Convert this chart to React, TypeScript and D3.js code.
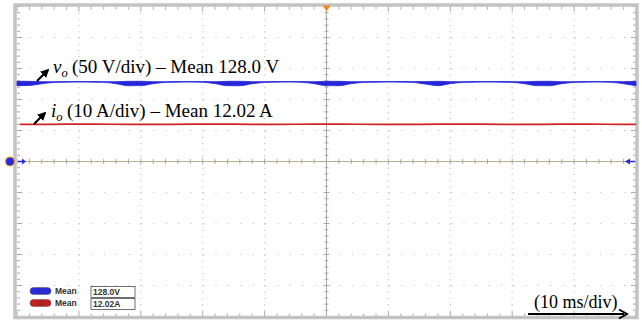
import React from "react";
import * as d3 from "d3";

// time axis: 10 ms/div, 10 divisions
const timeSamples = [0, 2, 4, 6, 8, 10, 12, 14, 16, 18, 20, 22, 24, 26, 28, 30, 32, 34, 36, 38, 40, 42, 44, 46, 48, 50, 52, 54, 56, 58, 60, 62, 64, 66, 68, 70, 72, 74, 76, 78, 80, 82, 84, 86, 88, 90, 92, 94, 96, 98, 100];
// output voltage envelope (V)
const voltHigh = [129.4, 129.3, 128.8, 128.7, 128.9, 129.1, 129.0, 128.8, 128.7, 129.3, 129.4, 128.8, 128.7, 128.9, 129.1, 128.9, 128.7, 129.3, 129.4, 128.8, 128.7, 129.0, 129.1, 128.9, 128.7, 129.4, 129.3, 128.8, 128.7, 128.9, 129.1, 129.0, 128.8, 128.9, 129.4, 128.8, 128.7, 128.9, 129.1, 129.0, 128.8, 128.7, 129.3, 129.4, 128.8, 128.7, 129.0, 129.1, 128.9, 128.8, 129.4];
const voltLow = [122.3, 122.6, 125.4, 127.5, 127.9, 128.1, 128.0, 127.7, 125.5, 122.2, 122.4, 125.6, 127.6, 128.0, 128.1, 127.8, 125.6, 122.3, 122.2, 125.5, 127.6, 128.0, 128.1, 127.7, 125.5, 122.4, 122.2, 125.6, 127.6, 127.9, 128.1, 128.0, 127.6, 124.8, 122.3, 125.6, 127.6, 128.0, 128.1, 127.9, 127.6, 125.5, 122.4, 122.2, 125.5, 127.6, 128.0, 128.1, 127.7, 125.4, 122.3];
// output current (A)
const currTime = [0.5, 5, 10, 15, 20, 25, 30, 35, 40, 45, 50, 55, 60, 65, 70, 75, 80, 85, 90, 95, 100];
const currValues = [11.95, 12.0, 12.05, 12.02, 11.97, 12.0, 12.06, 12.03, 11.98, 12.01, 12.05, 12.02, 11.97, 12.0, 12.05, 12.03, 11.98, 12.0, 12.04, 12.02, 11.98];

const xDivs = d3.range(0, 11);
const yDivs = d3.range(0, 11);

const voltLabel = "(50 V/div) – Mean 128.0 V";
const currLabel = "(10 A/div) – Mean 12.02 A";
const timeLabel = "(10 ms/div)";
const legendRows = [
  { ch: "C1", label: "Mean", value: "128.0V", fill: "#2a2ae0" },
  { ch: "C2", label: "Mean", value: "12.02A", fill: "#c81e1e" },
];

export default function App() {
  const W = 642, H = 324;
  const L = 17, R = 636, T = 6.5, B = 316.5;
  const x = d3.scaleLinear().domain([0, 100]).range([L, R]);
  const gx = d3.scaleLinear().domain([0, 10]).range([L, R]);
  const gy = d3.scaleLinear().domain([0, 10]).range([T, B]);
  const yV = d3.scaleLinear().domain([-250, 250]).range([B, T]);
  const yI = d3.scaleLinear().domain([-50, 50]).range([B, T]);
  const cx = gx(5), cy = gy(5);

  const voltArea = d3.area<number>()
    .x((_, i) => x(timeSamples[i]))
    .y0((_, i) => yV(voltLow[i]))
    .y1((_, i) => yV(voltHigh[i]))
    .curve(d3.curveMonotoneX);
  const currLine = d3.line<number>()
    .x((_, i) => x(currTime[i]))
    .y((d) => yI(d))
    .curve(d3.curveMonotoneX);

  const minorX = d3.range(0, 51).map((i) => L + (i * (R - L)) / 50);
  const minorY = d3.range(0, 51).map((i) => T + (i * (B - T)) / 50);
  const serif = "'Liberation Serif', 'Times New Roman', serif";
  const sans = "'Liberation Sans', Arial, sans-serif";

  return (
    <svg width={W} height={H} style={{ position: "absolute", left: 0, top: 0, background: "#fff" }}>
      <rect x={0} y={0} width={W} height={H} fill="#fff" />
      {/* dotted grid */}
      {xDivs.slice(1, 10).filter((d) => d !== 5).map((d) => (
        <line key={"gx" + d} x1={gx(d)} x2={gx(d)} y1={T} y2={B} stroke="#c4c4c4" strokeWidth={1.2} strokeDasharray="1.2,5" />
      ))}
      {yDivs.slice(1, 10).filter((d) => d !== 5).map((d) => (
        <line key={"gy" + d} x1={L} x2={R} y1={gy(d)} y2={gy(d)} stroke="#c4c4c4" strokeWidth={1.2} strokeDasharray="1.2,11.2" />
      ))}
      {/* center cross */}
      <line x1={cx} x2={cx} y1={T} y2={B} stroke="#a8a8a8" strokeWidth={1} />
      <line x1={L} x2={R} y1={cy} y2={cy} stroke="#b9ab8c" strokeWidth={1.2} />
      {minorY.map((v, i) => (
        <line key={"cyt" + i} x1={cx - (i % 5 === 0 ? 3 : 2)} x2={cx + (i % 5 === 0 ? 3 : 2)} y1={v} y2={v} stroke="#a8a8a8" strokeWidth={1} />
      ))}
      {minorX.map((v, i) => (
        <line key={"cxt" + i} x1={v} x2={v} y1={cy - (i % 5 === 0 ? 3 : 2.5)} y2={cy + (i % 5 === 0 ? 3 : 2.5)} stroke="#a8a8a8" strokeWidth={1} />
      ))}
      {/* border ticks */}
      {minorX.map((v, i) => (
        <g key={"bt" + i}>
          <line x1={v} x2={v} y1={T} y2={T + (i % 5 === 0 ? 5 : 3)} stroke="#a8a8a8" strokeWidth={1} />
          <line x1={v} x2={v} y1={B} y2={B - (i % 5 === 0 ? 5 : 3)} stroke="#a8a8a8" strokeWidth={1} />
        </g>
      ))}
      {minorY.map((v, i) => (
        <g key={"bl" + i}>
          <line x1={L} x2={L + (i % 5 === 0 ? 5 : 3)} y1={v} y2={v} stroke="#a8a8a8" strokeWidth={1} />
          <line x1={R} x2={R - (i % 5 === 0 ? 5 : 3)} y1={v} y2={v} stroke="#a8a8a8" strokeWidth={1} />
        </g>
      ))}
      {/* frame */}
      <rect x={L - 2} y={T - 1.5} width={R - L + 3} height={B - T + 2.5} fill="none" stroke="#c3c3c3" strokeWidth={3.5} />
      {/* traces */}
      <path d={voltArea(timeSamples) || ""} fill="#2626d8" stroke="#2626d8" strokeWidth={0.8} />
      <path d={currLine(currValues) || ""} fill="none" stroke="#cf2424" strokeWidth={1.7} />
      {/* markers */}
      <path d={`M${cx - 4},${T - 1} L${cx + 4},${T - 1} L${cx},${T + 5} Z`} fill="#f28a1c" />
      <circle cx={10} cy={cy} r={4.5} fill="#2828e0" stroke="#f0a020" strokeWidth={1.2} />
      <path d={`M${L + 1},${cy - 0.8} L${L + 5},${cy - 0.8} L${L + 5},${cy - 3} L${L + 9},${cy} L${L + 5},${cy + 3} L${L + 5},${cy + 0.8} L${L + 1},${cy + 0.8} Z`} fill="#2828e0" />
      <path d={`M${R - 1},${cy - 0.8} L${R - 6},${cy - 0.8} L${R - 6},${cy - 3} L${R - 11},${cy} L${R - 6},${cy + 3} L${R - 6},${cy + 0.8} L${R - 1},${cy + 0.8} Z`} fill="#2828e0" />
      {/* annotations */}
      <defs>
        <marker id="ah" viewBox="0 0 10 10" refX={8} refY={5} markerWidth={4} markerHeight={4} orient="auto">
          <path d="M0,0 L10,5 L0,10 Z" fill="#000" />
        </marker>
      </defs>
      <line x1={37} y1={81} x2={48} y2={70} stroke="#000" strokeWidth={2.2} markerEnd="url(#ah)" />
      <line x1={34} y1={124} x2={45} y2={113} stroke="#000" strokeWidth={2.2} markerEnd="url(#ah)" />
      <text x={53} y={73} fontFamily={serif} fontSize={19} fill="#000">
        <tspan fontStyle="italic">v</tspan>
        <tspan fontStyle="italic" fontSize={12.5} dy={4}>o</tspan>
      </text>
      <text x={72} y={73} fontFamily={serif} fontSize={19} fill="#000">{voltLabel}</text>
      <text x={51} y={117} fontFamily={serif} fontSize={19} fill="#000">
        <tspan fontStyle="italic">i</tspan>
        <tspan fontStyle="italic" fontSize={12.5} dy={4}>o</tspan>
      </text>
      <text x={67} y={117} fontFamily={serif} fontSize={19} fill="#000">{currLabel}</text>
      <text x={534} y={308} fontFamily={serif} fontSize={18} fill="#000">{timeLabel}</text>
      <line x1={528} y1={314} x2={624} y2={314} stroke="#000" strokeWidth={2} />
      <path d="M619,309.5 L627,314 L619,318.5" fill="none" stroke="#000" strokeWidth={2} />
      {/* legend */}
      {legendRows.map((r, i) => {
        const yy = 291 + i * 12;
        return (
          <g key={r.ch}>
            <rect x={30} y={yy - 3.5} width={21} height={7} rx={3.5} fill={r.fill} stroke="#555" strokeWidth={0.5} />
            <text x={40.5} y={yy + 2} fontSize={5} textAnchor="middle" fill="#333" fontFamily={sans}>{r.ch}</text>
            <text x={55} y={yy + 3} fontSize={8.5} fontWeight="bold" fill="#333" fontFamily={sans}>{r.label}</text>
            <rect x={91} y={yy - 4.5} width={44} height={11} fill="#fff" stroke="#333" strokeWidth={0.7} />
            <text x={93} y={yy + 3.5} fontSize={8.5} fontWeight="bold" fill="#333" fontFamily={sans}>{r.value}</text>
          </g>
        );
      })}
    </svg>
  );
}
